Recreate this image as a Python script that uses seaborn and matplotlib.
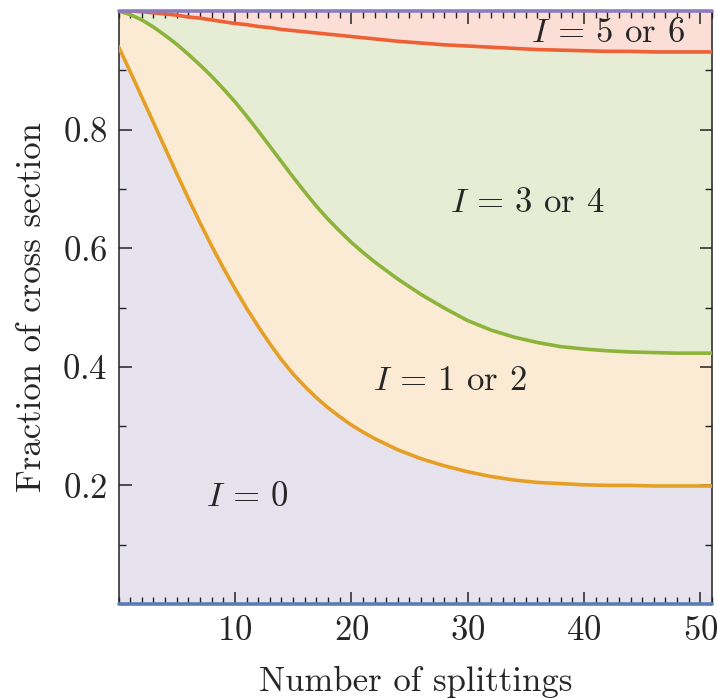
import numpy as np
import pandas as pd
import matplotlib
matplotlib.use("Agg")
import matplotlib.pyplot as plt
import seaborn as sns
from matplotlib.ticker import MultipleLocator

# cumulative fractions
splittings = [0, 1, 2, 3, 4, 5, 6, 7, 8, 9, 10, 11, 12, 13, 14, 15, 16, 17, 18, 19,
              20, 21, 22, 24, 26, 28, 30, 32, 34, 36, 38, 40, 42, 44, 46, 48, 51]
frac_i0 = [0.940, 0.898, 0.855, 0.812, 0.769, 0.726, 0.684, 0.643, 0.604, 0.567,
           0.532, 0.499, 0.468, 0.439, 0.412, 0.388, 0.367, 0.348, 0.331, 0.316,
           0.302, 0.290, 0.279, 0.260, 0.245, 0.233, 0.223, 0.215, 0.209, 0.205,
           0.203, 0.201, 0.200, 0.200, 0.199, 0.199, 0.199]
frac_i2 = [1.000, 0.994, 0.985, 0.973, 0.959, 0.944, 0.927, 0.909, 0.890, 0.869,
           0.847, 0.823, 0.798, 0.772, 0.746, 0.720, 0.695, 0.671, 0.649, 0.629,
           0.610, 0.593, 0.577, 0.548, 0.522, 0.499, 0.478, 0.462, 0.450, 0.441,
           0.434, 0.430, 0.427, 0.425, 0.424, 0.423, 0.423]
frac_i4 = [1.000, 1.000, 0.999, 0.997, 0.995, 0.993, 0.990, 0.988, 0.985, 0.982,
           0.979, 0.977, 0.974, 0.972, 0.969, 0.967, 0.965, 0.963, 0.961, 0.959,
           0.957, 0.955, 0.953, 0.949, 0.946, 0.943, 0.941, 0.939, 0.937, 0.935,
           0.934, 0.933, 0.932, 0.932, 0.931, 0.931, 0.931]
labels = [r"$I\,=\,0$", r"$I\,=\,1$ or $2$", r"$I\,=\,3$ or $4$", r"$I\,=\,5$ or $6$"]

df = pd.DataFrame({"n": splittings, "i0": frac_i0, "i2": frac_i2, "i4": frac_i4})
df["zero"] = 0.0
df["one"] = 1.0

sns.set_style("ticks")
plt.rcParams["font.family"] = ["cmr10", "DejaVu Serif"]
plt.rcParams["mathtext.fontset"] = "cm"
plt.rcParams["axes.formatter.use_mathtext"] = True

fills = ["#e6e3ef", "#fbead4", "#e7edd5", "#fbdfd6"]
lines = ["#5b7db6", "#e69f25", "#8cb43a", "#ee6035", "#8b7cbd"]
fs = 25

fig = plt.figure(figsize=(7.17, 6.98), dpi=100)
ax = fig.add_axes([0.1653, 0.1347, 0.8277, 0.8495])
ax.set_axisbelow(False)

bounds = ["zero", "i0", "i2", "i4", "one"]
for k in range(4):
    ax.fill_between(df["n"], df[bounds[k]], df[bounds[k + 1]], color=fills[k], lw=0, zorder=1)

for k, col in enumerate(bounds):
    sns.lineplot(data=df, x="n", y=col, color=lines[k], lw=2.6, ax=ax, zorder=5,
                 clip_on=(k not in (0, 4)))

ax.set_xlim(0, 51)
ax.set_ylim(0, 1)
ax.set_xticks([10, 20, 30, 40, 50])
ax.set_yticks([0.2, 0.4, 0.6, 0.8])
ax.xaxis.set_minor_locator(MultipleLocator(1))
ax.yaxis.set_minor_locator(MultipleLocator(0.1))
ax.tick_params(which="both", direction="in", top=True, right=True, labelsize=fs, color="#222222")
ax.tick_params(which="major", length=9, width=1.1, pad=8)
ax.tick_params(which="minor", length=5, width=1.0)
for s in ax.spines.values():
    s.set_linewidth(1.1)
    s.set_color("#222222")

ax.set_xlabel("Number of splittings", fontsize=fs, labelpad=14)
ax.set_ylabel("Fraction of cross section", fontsize=fs, labelpad=10)

ax.text(11.1, 0.18, labels[0], fontsize=fs, ha="center", va="center", zorder=6)
ax.text(28.5, 0.376, labels[1], fontsize=fs, ha="center", va="center", zorder=6)
ax.text(35.1, 0.676, labels[2], fontsize=fs, ha="center", va="center", zorder=6)
ax.text(42.1, 0.963, labels[3], fontsize=fs, ha="center", va="center", zorder=6)

fig.savefig("out.png", dpi=100)
